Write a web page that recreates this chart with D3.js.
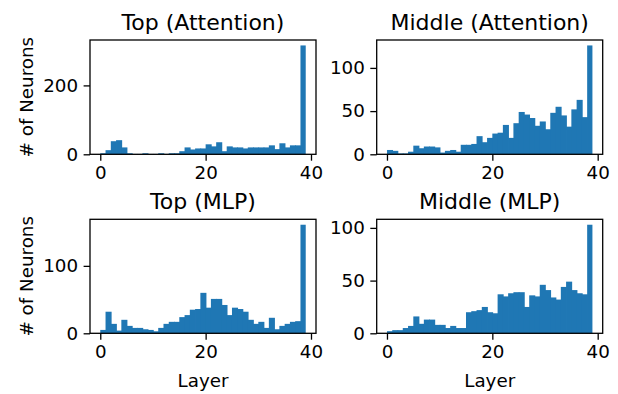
<!DOCTYPE html>
<html><head><meta charset="utf-8">
<script src="https://cdn.jsdelivr.net/npm/d3@7"></script>
<style>body{margin:0;background:#fff}svg{display:block}text{font-family:"DejaVu Sans",sans-serif;fill:#000}</style>
</head><body><svg id="c" width="618" height="394"></svg>
<script>
const titles = ["Top (Attention)", "Middle (Attention)", "Top (MLP)", "Middle (MLP)"];
const topAttention = [3,12,38,41,20,3,1,1,3,1,1,3,1,3,3,9,20,14,17,17,29,23,35,9,23,20,20,17,20,20,20,20,26,15,32,20,26,26,316];
const middleAttention = [5,4,1,1,3,10,7,9,9,8,2,4,5,3,11,11,12,21,14,19,24,25,34,19,36,49,46,42,33,38,29,48,55,45,32,52,63,43,126];
const topMLP = [5,32,14,4,20,11,8,8,6,5,3,8,14,17,17,24,27,35,36,60,38,51,51,42,27,38,36,32,20,14,17,8,23,6,11,14,17,18,161];
const middleMLP = [2,3,3,5,7,16,9,13,13,8,8,5,7,5,5,20,21,22,25,20,19,37,35,38,39,39,25,36,35,46,41,34,32,44,49,41,38,37,103];
const xTicks = [0, 20, 40];
const yTicksList = [[0,200],[0,50,100],[0,100],[0,50,100]];
const seriesList = [topAttention, middleAttention, topMLP, middleMLP];

const svg = d3.select("#c");
const boxes = [
  {l:90, r:316, t:40, b:154.3},
  {l:376.7, r:602.7, t:40, b:154.3},
  {l:90, r:316, t:219.3, b:333.3},
  {l:376.7, r:602.7, t:219.3, b:333.3}
];
const color = "#1f77b4";
const fs = "18.3px", tfs = "22px";
seriesList.forEach((vals, k) => {
  const bx = boxes[k];
  const n = vals.length;
  const x = d3.scaleLinear().domain([-0.05*n, n*1.05]).range([bx.l, bx.r]);
  const ymax = d3.max(vals);
  const y = d3.scaleLinear().domain([0, ymax*1.05]).range([bx.b, bx.t]);
  const g = svg.append("g");
  g.selectAll("rect").data(vals).join("rect")
    .attr("x", (d,i) => x(i)).attr("width", (d,i) => x(i+1)-x(i)+(i < n-1 ? 0.8 : 0))
    .attr("y", d => y(d)).attr("height", d => y(0)-y(d))
    .attr("fill", color);
  g.append("rect").attr("x", bx.l).attr("y", bx.t).attr("width", bx.r-bx.l).attr("height", bx.b-bx.t)
    .attr("fill","none").attr("stroke","#000").attr("stroke-width",1.3);
  const xa = g.append("g").attr("transform", `translate(0,${bx.b})`)
    .call(d3.axisBottom(x).tickValues(xTicks).tickSize(6.4).tickPadding(5).tickFormat(d3.format("d")));
  const ya = g.append("g").attr("transform", `translate(${bx.l},0)`)
    .call(d3.axisLeft(y).tickValues(yTicksList[k]).tickSize(6.4).tickPadding(5.5).tickFormat(d3.format("d")));
  [xa, ya].forEach(a => {
    a.select(".domain").remove();
    a.selectAll("line").attr("stroke","#000").attr("stroke-width",1.3);
    a.selectAll("text").style("font-size",fs).style("font-family","DejaVu Sans").attr("fill","#000");
  });
  g.append("text").attr("x", (bx.l+bx.r)/2).attr("y", bx.t-10).attr("text-anchor","middle")
    .style("font-size",tfs).text(titles[k]);
  if (k % 2 === 0) {
    g.append("text").attr("transform", `translate(${bx.l-57},${(bx.t+bx.b)/2}) rotate(-90)`)
      .attr("text-anchor","middle").style("font-size",fs).text("# of Neurons");
  }
  if (k >= 2) {
    g.append("text").attr("x", (bx.l+bx.r)/2).attr("y", bx.b+54).attr("text-anchor","middle")
      .style("font-size",fs).text("Layer");
  }
});
</script></body></html>
